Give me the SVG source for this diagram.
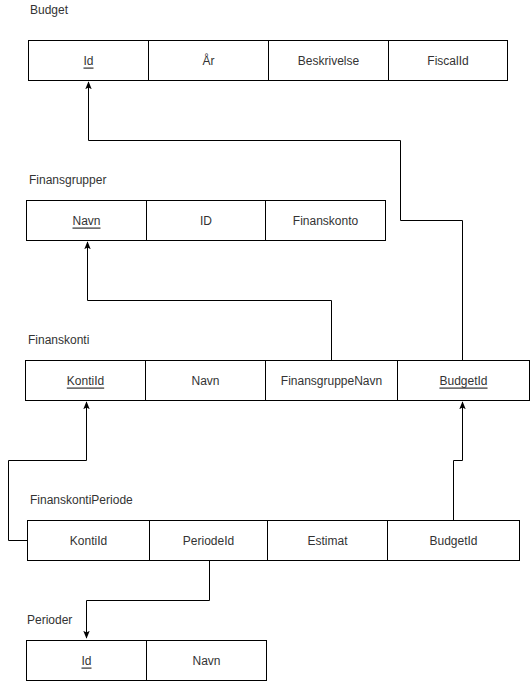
<svg xmlns="http://www.w3.org/2000/svg" width="530" height="681" viewBox="0 0 530 681">
<style>
.cell{fill:#fff;stroke:#000;stroke-width:1}
.t{font-family:"Liberation Sans",Arial,sans-serif;font-size:12px;fill:#333;text-anchor:middle;dominant-baseline:central}
.lbl{font-family:"Liberation Sans",Arial,sans-serif;font-size:12px;fill:#333;dominant-baseline:central}
.u{text-decoration:underline}
.c{fill:none;stroke:#000;stroke-width:1}
</style>
<defs>
<marker id="ah" viewBox="0 0 10 10" refX="9" refY="5" markerWidth="8" markerHeight="8" markerUnits="userSpaceOnUse" orient="auto">
<path d="M0,1 L10,5 L0,9 L2,5 Z" fill="#000"/>
</marker>
</defs>
<rect width="530" height="681" fill="#fff"/>
<g id="connectors">
<path class="c" d="M462.5,360 V220.5 H400.5 V140.5 H88.5 V82" marker-end="url(#ah)"/>
<path class="c" d="M331.5,360 V300.5 H87.5 V242" marker-end="url(#ah)"/>
<path class="c" d="M27,540.5 H8.5 V460.5 H86.5 V402" marker-end="url(#ah)"/>
<path class="c" d="M453.5,520 V460.5 H462.5 V402" marker-end="url(#ah)"/>
<path class="c" d="M209.5,560 V600.5 H86.5 V638" marker-end="url(#ah)"/>
</g>
<g id="budget">
<text class="lbl" x="30" y="10">Budget</text>
<rect class="cell" x="28.5" y="40.5" width="120" height="40"/>
<rect class="cell" x="148.5" y="40.5" width="120" height="40"/>
<rect class="cell" x="268.5" y="40.5" width="120" height="40"/>
<rect class="cell" x="388.5" y="40.5" width="119" height="40"/>
<text class="t u" x="88.5" y="60.5">Id</text>
<text class="t" x="208.5" y="60.5">År</text>
<text class="t" x="328.5" y="60.5">Beskrivelse</text>
<text class="t" x="448" y="60.5">FiscalId</text>
</g>
<g id="finansgrupper">
<text class="lbl" x="29" y="180">Finansgrupper</text>
<rect class="cell" x="26.5" y="200.5" width="120" height="40"/>
<rect class="cell" x="146.5" y="200.5" width="119" height="40"/>
<rect class="cell" x="265.5" y="200.5" width="120" height="40"/>
<text class="t u" x="86.5" y="220.5">Navn</text>
<text class="t" x="206" y="220.5">ID</text>
<text class="t" x="325.5" y="220.5">Finanskonto</text>
</g>
<g id="finanskonti">
<text class="lbl" x="28" y="340">Finanskonti</text>
<rect class="cell" x="25.5" y="360.5" width="120" height="40"/>
<rect class="cell" x="145.5" y="360.5" width="120" height="40"/>
<rect class="cell" x="265.5" y="360.5" width="132" height="40"/>
<rect class="cell" x="397.5" y="360.5" width="132" height="40"/>
<text class="t u" x="85.5" y="380.5">KontiId</text>
<text class="t" x="205.5" y="380.5">Navn</text>
<text class="t" x="331.5" y="380.5">FinansgruppeNavn</text>
<text class="t u" x="463.5" y="380.5">BudgetId</text>
</g>
<g id="finanskontiperiode">
<text class="lbl" x="30" y="500">FinanskontiPeriode</text>
<rect class="cell" x="27.5" y="520.5" width="122" height="40"/>
<rect class="cell" x="149.5" y="520.5" width="118" height="40"/>
<rect class="cell" x="267.5" y="520.5" width="120" height="40"/>
<rect class="cell" x="387.5" y="520.5" width="132" height="40"/>
<text class="t" x="88.5" y="540.5">KontiId</text>
<text class="t" x="208.5" y="540.5">PeriodeId</text>
<text class="t" x="327.5" y="540.5">Estimat</text>
<text class="t" x="453.5" y="540.5">BudgetId</text>
</g>
<g id="perioder">
<text class="lbl" x="27" y="620">Perioder</text>
<rect class="cell" x="26.5" y="640.5" width="120" height="40"/>
<rect class="cell" x="146.5" y="640.5" width="120" height="40"/>
<text class="t u" x="86.5" y="660.5">Id</text>
<text class="t" x="206.5" y="660.5">Navn</text>
</g>
</svg>
